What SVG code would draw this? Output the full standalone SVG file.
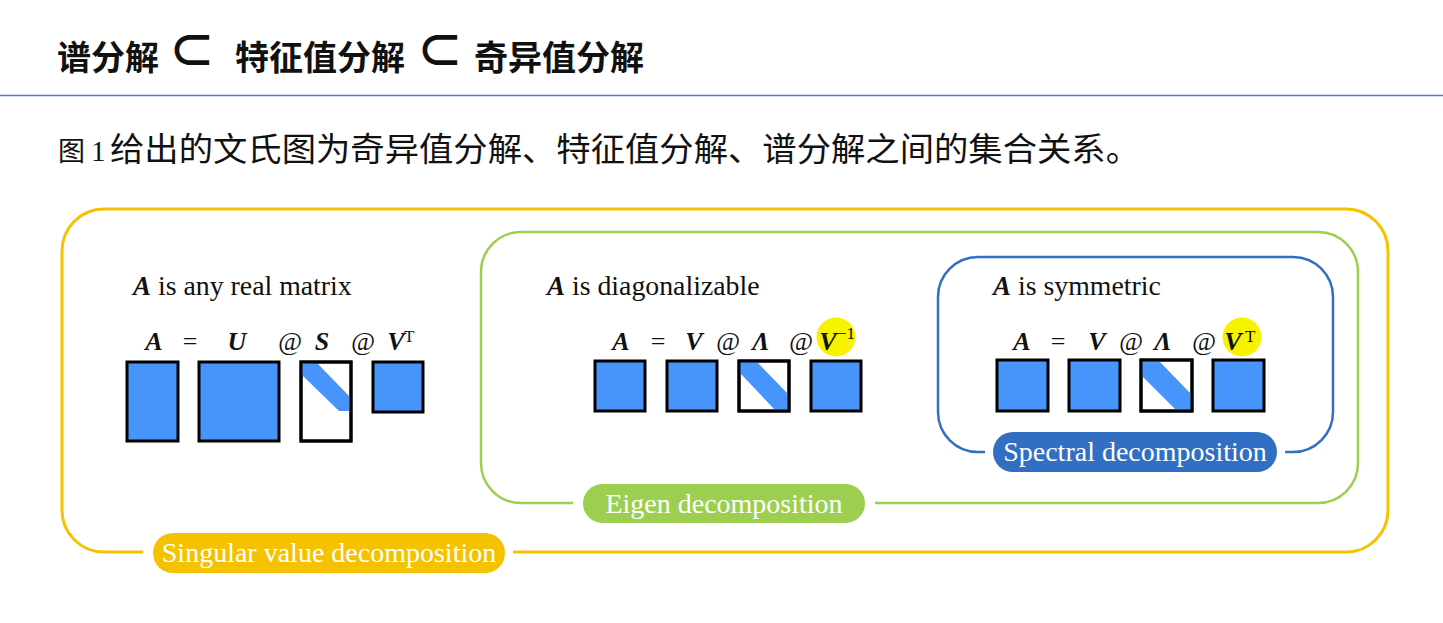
<svg xmlns="http://www.w3.org/2000/svg" width="1443" height="623" viewBox="0 0 1443 623">
<style>
.cjk{font-family:"Noto Sans CJK SC","Noto Sans",sans-serif;fill:#111}
.t{font-family:"Liberation Serif",serif;font-size:27.8px;fill:#111}
.h{font-family:"Liberation Serif",serif;font-size:27px;font-weight:bold;font-style:italic;fill:#111}
.m{font-family:"Liberation Serif",serif;font-size:26px;font-weight:bold;font-style:italic;fill:#111}
.e{font-family:"Liberation Serif",serif;font-size:26px;fill:#111}
.at{font-family:"Liberation Serif",serif;font-size:26px;font-style:italic;fill:#111}
.sup{font-family:"Liberation Serif",serif;font-size:17px;fill:#111}
.pill{font-family:"Liberation Serif",serif;font-size:28px;fill:#fff}
.mat{fill:#4794fb;stroke:#000;stroke-width:3}
.diag{fill:#fff;stroke:#000;stroke-width:3}
.band{fill:#4794fb}
.hl{fill:#f7f300}
</style>
<rect width="1443" height="623" fill="#fff"/>
<g id="title">
<text class="cjk" x="57" y="70" font-size="34" font-weight="bold">谱分解</text>
<text class="cjk" x="169" y="67" font-size="46" font-weight="bold">⊂</text>
<text class="cjk" x="235" y="70" font-size="34" font-weight="bold">特征值分解</text>
<text class="cjk" x="417" y="67" font-size="46" font-weight="bold">⊂</text>
<text class="cjk" x="474" y="70" font-size="34" font-weight="bold">奇异值分解</text>
<line x1="0" y1="95.5" x2="1443" y2="95.5" stroke="#4a7cc8" stroke-width="1.5"/>
</g>
<g id="caption">
<text class="cjk" x="58" y="161" font-size="27">图</text>
<text x="91" y="161" font-family="Liberation Serif,serif" font-size="29" fill="#111">1</text>
<text class="cjk" x="110" y="161" font-size="33" textLength="1030" lengthAdjust="spacingAndGlyphs">给出的文氏图为奇异值分解、特征值分解、谱分解之间的集合关系。</text>
</g>
<g id="connectors" fill="none">
<path d="M513,552 H1346 A42,42 0 0 0 1388,510 V251 A42,42 0 0 0 1346,209 H104 A42,42 0 0 0 62,251 V510 A42,42 0 0 0 104,552 H143" stroke="#f5c200" stroke-width="3"/>
<path d="M875,503 H1318 A40,40 0 0 0 1358,463 V272 A40,40 0 0 0 1318,232 H521 A40,40 0 0 0 481,272 V463 A40,40 0 0 0 521,503 H573" stroke="#9ccf4f" stroke-width="2.5"/>
<path d="M1285,452 H1293 A40,40 0 0 0 1333,412 V297 A40,40 0 0 0 1293,257 H978 A40,40 0 0 0 938,297 V412 A40,40 0 0 0 978,452 H985" stroke="#306fc4" stroke-width="2.5"/>
</g>
<g id="svd-label">
<rect x="153" y="533" width="352" height="40" rx="20" fill="#f5c200"/>
<text class="pill" x="329" y="562" text-anchor="middle">Singular value decomposition</text>
</g>
<g id="eig-label">
<rect x="583" y="484" width="282" height="39" rx="19.5" fill="#9ccf4f"/>
<text class="pill" x="724" y="513" text-anchor="middle">Eigen decomposition</text>
</g>
<g id="spec-label">
<rect x="993" y="432" width="284" height="40" rx="20" fill="#306fc4"/>
<text class="pill" x="1135" y="461" text-anchor="middle">Spectral decomposition</text>
</g>
<g id="svd-panel">
<text x="133" y="295"><tspan class="h">A</tspan><tspan class="t"> is any real matrix</tspan></text>
<text class="m" x="154" y="350" text-anchor="middle">A</text>
<text class="e" x="190" y="350" text-anchor="middle">=</text>
<text class="m" x="237" y="350" text-anchor="middle">U</text>
<text class="at" x="290" y="350" text-anchor="middle">@</text>
<text class="m" x="322" y="350" text-anchor="middle">S</text>
<text class="at" x="363" y="350" text-anchor="middle">@</text>
<text class="m" x="396" y="350" text-anchor="middle">V</text>
<text class="sup" x="404" y="342">T</text>
<rect class="mat" x="127" y="362" width="51" height="79"/>
<rect class="mat" x="199" y="362" width="80" height="79"/>
<rect class="diag" x="301" y="362" width="50" height="79"/>
<polygon class="band" points="302,362 316,362 350,397 350,411 339,411 302,375"/>
<rect x="301" y="362" width="50" height="79" fill="none" stroke="#000" stroke-width="3"/>
<rect class="mat" x="373" y="362" width="50" height="50"/>
</g>
<g id="eig-panel">
<text x="547" y="295"><tspan class="h">A</tspan><tspan class="t"> is diagonalizable</tspan></text>
<circle class="hl" cx="836" cy="337" r="19.5"/>
<text class="m" x="621" y="350" text-anchor="middle">A</text>
<text class="e" x="658" y="350" text-anchor="middle">=</text>
<text class="m" x="694" y="350" text-anchor="middle">V</text>
<text class="at" x="728" y="350" text-anchor="middle">@</text>
<text class="m" x="761" y="350" text-anchor="middle">Λ</text>
<text class="at" x="801" y="350" text-anchor="middle">@</text>
<text class="m" x="828" y="350" text-anchor="middle">V</text>
<text class="sup" x="837" y="339">−1</text>
<rect class="mat" x="595" y="361" width="50" height="50"/>
<rect class="mat" x="667" y="361" width="50" height="50"/>
<rect class="diag" x="739" y="361" width="50" height="50"/>
<polygon class="band" points="740,361 756,361 788,394 788,410 775,410 740,373"/>
<rect x="739" y="361" width="50" height="50" fill="none" stroke="#000" stroke-width="3"/>
<rect class="mat" x="811" y="361" width="50" height="50"/>
</g>
<g id="spec-panel">
<text x="993" y="295"><tspan class="h">A</tspan><tspan class="t"> is symmetric</tspan></text>
<circle class="hl" cx="1242" cy="337" r="19.5"/>
<text class="m" x="1022" y="350" text-anchor="middle">A</text>
<text class="e" x="1058" y="350" text-anchor="middle">=</text>
<text class="m" x="1097" y="350" text-anchor="middle">V</text>
<text class="at" x="1131" y="350" text-anchor="middle">@</text>
<text class="m" x="1163" y="350" text-anchor="middle">Λ</text>
<text class="at" x="1204" y="350" text-anchor="middle">@</text>
<text class="m" x="1233" y="350" text-anchor="middle">V</text>
<text class="sup" x="1245" y="342">T</text>
<rect class="mat" x="997" y="360" width="51" height="51"/>
<rect class="mat" x="1069" y="360" width="51" height="51"/>
<rect class="diag" x="1141" y="360" width="51" height="51"/>
<polygon class="band" points="1142,360 1158,360 1191,394 1191,410 1176,410 1142,376"/>
<rect x="1141" y="360" width="51" height="51" fill="none" stroke="#000" stroke-width="3"/>
<rect class="mat" x="1213" y="360" width="51" height="51"/>
</g>
</svg>
